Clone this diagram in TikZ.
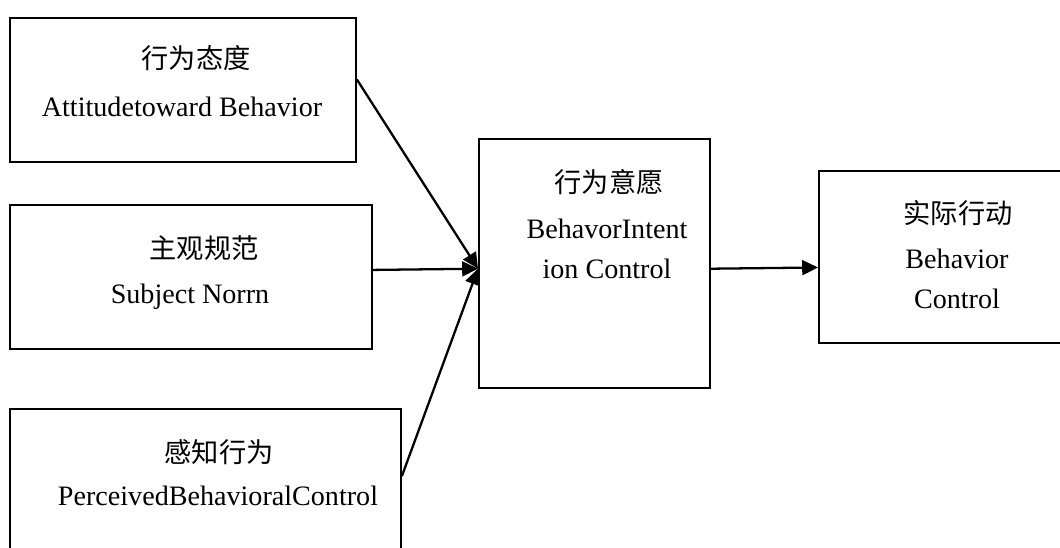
\documentclass[tikz,border=0pt]{standalone}
\usepackage{fontspec}
\setmainfont{Liberation Serif}
\newfontfamily\cjk{Noto Sans CJK SC}
\usetikzlibrary{arrows.meta}

\begin{document}
\begin{tikzpicture}[x=0.02cm, y=-0.02cm, line width=1.1pt,
		box/.style={draw, rectangle, anchor=north west, inner sep=0pt},
		en/.style={font=\fontsize{16}{19}\selectfont, inner sep=0pt, anchor=base},
		zh/.style={font=\fontsize{15.5}{19}\selectfont\cjk, inner sep=0pt},
		arr/.style={line width=1.3pt, -{Triangle[length=9pt,width=8.5pt]}}]
		\useasboundingbox (0,0) rectangle (1060,547);
		\clip (0,0) rectangle (1060,547);
		% boxes
		\node[box, minimum width=6.92cm, minimum height=2.88cm] (att) at (9,17){};
		\node[box, minimum width=7.24cm, minimum height=2.88cm] (norm) at (9,204){};
		\node[box, minimum width=7.82cm, minimum height=3.04cm] (pbc) at (9,408){};
		\node[box, minimum width=4.62cm, minimum height=4.98cm] (intent) at (478,138){};
		\node[box, minimum width=5.24cm, minimum height=3.44cm] (act) at (818,170){};
		% texts
		\node[zh] (attZh) at (196,58){行为态度};
		\node[en] (attEn) at (182,117){Attitudetoward Behavior};
		\node[zh] (normZh) at (204,248){主观规范};
		\node[en] (normEn) at (190,303){Subject Norrn};
		\node[zh] (pbcZh) at (219,452){感知行为};
		\node[en] (pbcEn) at (218,505){PerceivedBehavioralControl};
		\node[zh] (intentZh) at (609,182){行为意愿};
		\node[en] (intentEnA) at (607,238){BehavorIntent};
		\node[en] (intentEnB) at (607,278){ion Control};
		\node[zh] (actZh) at (958,213){实际行动};
		\node[en] (actEnA) at (957,268){Behavior};
		\node[en] (actEnB) at (957,308){Control};
		% arrows
		\draw[arr] ([yshift=6pt]att.east) -- ([yshift=-3pt]intent.west);
		\draw[arr] ([yshift=4pt]norm.east) -- ([yshift=-3pt]intent.west);
		\draw[arr] ([yshift=5pt]pbc.east) -- ([yshift=-3pt]intent.west);
		\draw[arr] ([yshift=-3pt]intent.east) -- ([yshift=-6pt]act.west);
	\end{tikzpicture}
\end{document}
